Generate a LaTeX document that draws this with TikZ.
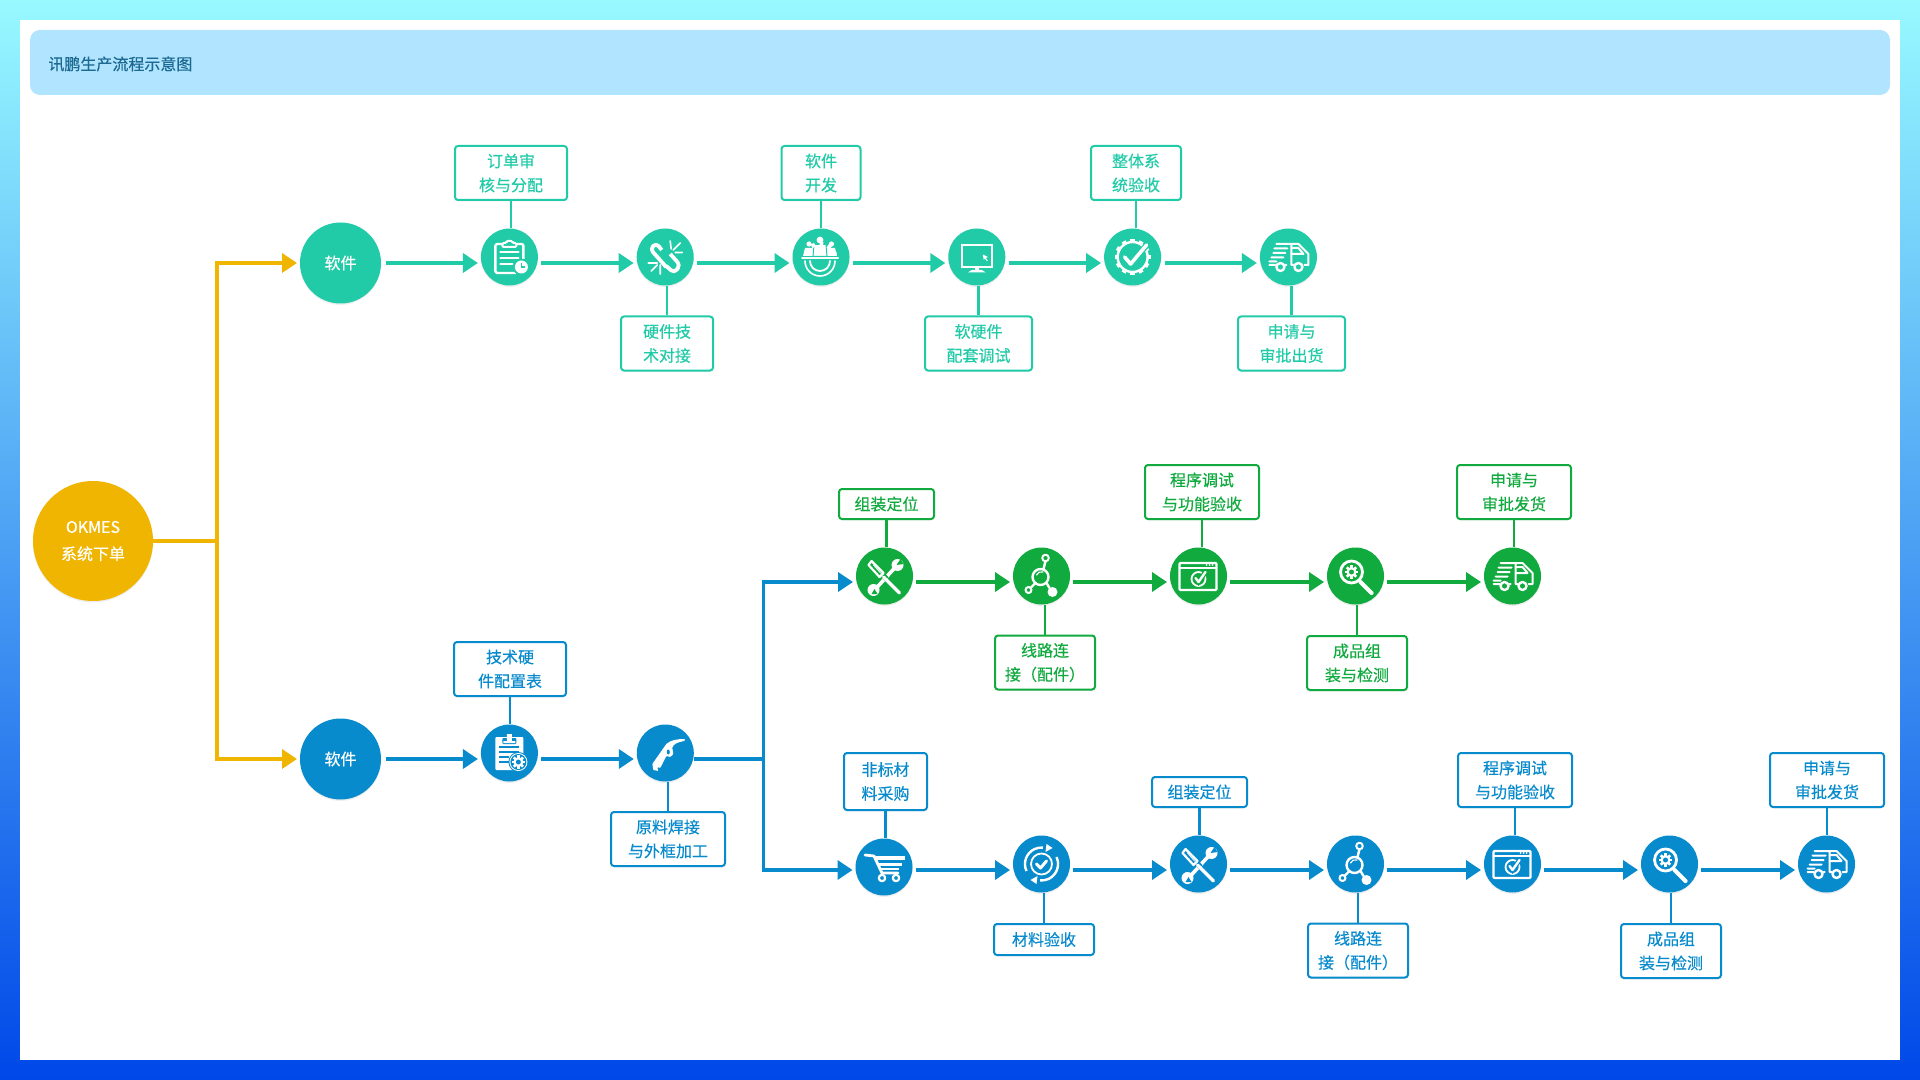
\documentclass[tikz,border=0pt]{standalone}
\usepackage{fontspec}
\setmainfont{Noto Sans CJK SC}
\newfontfamily\midfont[FakeBold=0.4]{Noto Sans CJK SC}
\usetikzlibrary{arrows.meta,shadows}
\definecolor{cteal}{HTML}{22CBA8}
\definecolor{cleaf}{HTML}{10AA3E}
\definecolor{cblue}{HTML}{088BCD}
\definecolor{cgold}{HTML}{F0B500}
\definecolor{bgtop}{HTML}{98F9FF}
\definecolor{bgbot}{HTML}{0048E8}
\definecolor{chead}{HTML}{B0E4FF}
\definecolor{ctitle}{HTML}{1C6A92}

% one cog wheel: x, y, radius, colour of the hole
\newcommand{\cog}[4]{%
  \begin{scope}[shift={(#1,#2)}]
    \foreach \a in {0,45,90,135}
      \fill[white,rotate=\a] (-.26*#3,-1.32*#3) rectangle (.26*#3,1.32*#3);
    \fill[white] (0,0) circle[radius=#3];
    \fill[#4] (0,0) circle[radius=.5*#3];
  \end{scope}}

\tikzset{
  ink/.style={draw=white,line width=1.2pt,line cap=round,line join=round},
  pics/clipclock/.style={code={
    \draw[ink,rounded corners=1pt] (-8,-13) -- (-14,-13) -- (-14,16) -- (6,16);
    \draw[ink,rounded corners=1pt] (8,-13) -- (14,-13) -- (14,2);
    \draw[ink,line width=1pt,rounded corners=.6pt] (-7,-10) -- (-7,-14) -- (-3,-14) -- (-3,-16) -- (3,-16) -- (3,-14) -- (7,-14) -- (7,-10) -- cycle;
    \draw[ink] (-9,-5) -- (9,-5) (-9,1) -- (9,1) (-9,7) -- (3,7);
    \fill[#1] (12,10) circle[radius=8.5];
    \fill[white] (12,10) circle[radius=6.5];
    \draw[#1,line width=.6pt] (12,6) -- (12,10) -- (16,10);
  }},
  pics/brokenlink/.style={code={
    \draw[ink,line width=1.9pt,rounded corners=2pt,line cap=butt] (-3.5,-7) -- (-9,-14) -- (-15,-8) -- (1,10);
    \draw[ink,line width=1.9pt,rounded corners=2pt,line cap=butt] (5,-3) -- (15,8) -- (9,16) -- (1,9);
    \draw[ink,line width=.8pt] (5,-16) -- (6,-8) (8,-7) -- (15,-14) (10,-4.5) -- (17,-4.5)
      (-17,6) -- (-8,6) (-14,14) -- (-8,8) (-5,8) -- (-5,17);
  }},
  pics/teamcog/.style={code={
    \fill[white] (-1,-17) circle[radius=3.4] (-12,-13) circle[radius=2.6] (10.5,-13) circle[radius=2.6];
    \fill[white] (-18,-1) -- (-16,-9) -- (-6,-9) -- (-6,-1) -- cycle;
    \fill[white] (16,-1) -- (14,-9) -- (4,-9) -- (4,-1) -- cycle;
    \fill[white,draw=#1,line width=.5pt] (-8,-.5) -- (-7,-12.5) -- (5,-12.5) -- (6,-.5) -- cycle;
    \draw[ink,line width=1pt] (-19,1.5) -- (17,1.5);
    \foreach \a in {25,55,...,155}
      \fill[white,shift={(-1,3)},rotate=\a] (14,-1.8) rectangle (18,1.8);
    \draw[ink,line width=.8pt] (-16,4) arc[start angle=180,end angle=0,radius=15];
    \draw[ink,line width=.9pt] (-11,4) arc[start angle=180,end angle=0,radius=10];
  }},
  pics/monitor/.style={code={
    \draw[ink,line cap=butt,line join=miter] (-15,-12) rectangle (15,10);
    \fill[white] (-2,10) rectangle (2,14);
    \fill[white] (-9,15.5) -- (-5,13) -- (5,13) -- (9,15.5) -- cycle;
    \fill[white] (6,-2.5) -- (11,0) -- (9,1) -- (11,3.5) -- (10,4) -- (8,1.5) -- (7,3) -- cycle;
  }},
  pics/cogcheck/.style={code={
    \foreach \a in {0,30,...,330}
      \fill[white,rotate=\a] (-2.2,-14) rectangle (2.2,-18);
    \draw[ink] (0,0) circle[radius=15];
    \fill[#1] (0,0) circle[radius=12.5];
    \draw[ink,line width=3pt,#1,line cap=butt] (-8,0) -- (-2,7) -- (15,-13);
    \draw[ink,line width=1.8pt] (-8,0) -- (-2,7) -- (14,-12);
  }},
  pics/truck/.style={code={
    \draw[ink,line width=1pt] (-12,-13) -- (3,-13) (3,-13) -- (10,-13) -- (20,-3) -- (20,8) -- (16,8)
      (3,-13) -- (3,8) -- (5,8) (-2,8) -- (-3,8) (-13,8) -- (-19,8)
      (-14,-8.5) -- (-1,-8.5) (-15,-4) -- (-3,-4) (-17,.5) -- (-5,.5) (-19,4.5) -- (-12,4.5);
    \draw[ink,line width=1pt] (3,-3) -- (15,-3) -- (10,-9) -- (3,-9);
    \draw[ink] (-8,10) circle[radius=4] (10,10) circle[radius=4];
  }},
  pics/tools/.style={code={
    \draw[ink,line width=1.8pt] (-9,13) -- (11,-9);
    \fill[white] (-11,14) circle[radius=6] (13,-11) circle[radius=6];
    \fill[#1] (-13,18) -- (-10,13) -- (-7,18) -- cycle;
    \fill[#1] (16,-17) -- (12,-11) -- (19,-12) -- cycle;
    \draw[#1,line width=2.6pt,line cap=butt] (-5,-5) -- (2,3);
    \draw[ink,line width=1.6pt] (-1,1) -- (15,17);
    \draw[ink,line width=2.2pt,#1,line cap=butt] (-16,-13) -- (-3,0);
    \draw[ink,line width=1.1pt] (-13,-15) -- (-1,-3) -- (-5,1) -- (-16,-11) -- cycle;
    \draw[ink,line width=.4pt] (-11,-11) -- (-4,-3);
  }},
  pics/hubnet/.style={code={
    \draw[ink] (-1,1) circle[radius=8];
    \draw[ink,line width=.6pt] (-5,-1) arc[start angle=200,end angle=290,radius=5];
    \draw[ink] (4,-15) -- (2,-7) (-6,7) -- (-11,12) (5,7) -- (8,12);
    \draw[ink,line width=1pt] (4,-18) circle[radius=3.3] (-13,14) circle[radius=3];
    \fill[white] (11,16) circle[radius=5];
  }},
  pics/browser/.style={code={
    \draw[ink,rounded corners=.5pt] (-19,-13) rectangle (18,14);
    \draw[ink,line width=.8pt] (-19,-8) -- (18,-8);
    \fill[white] (8,-11) circle[radius=1] (11,-11) circle[radius=1] (14,-11) circle[radius=1];
    \draw[ink,line width=.9pt] (0,3) circle[radius=7];
    \draw[#1,line width=2.4pt] (-3,2) -- (0,6) -- (7,-4);
    \draw[ink,line width=1.2pt] (-3,2) -- (0,6) -- (7,-4);
  }},
  pics/lens/.style={code={
    \draw[ink,line width=1.4pt] (-4,-4) circle[radius=11];
    \cog{-4}{-4}{5}{#1}
    \draw[ink,line width=2.1pt] (5,6) -- (16,17);
  }},
  pics/clipcog/.style={code={
    \fill[white,rounded corners=.5pt] (-14,-16) rectangle (14,17);
    \fill[#1,rounded corners=.5pt] (-7,-15) rectangle (7,-9);
    \fill[white] (-6,-12) rectangle (6,-10) (-2.5,-19) rectangle (2.5,-12);
    \draw[#1,line width=.8pt] (-10,-6) -- (10,-6) (-10,-1) -- (10,-1) (-10,4) -- (0,4) (-10,9) -- (0,9);
    \fill[#1] (9,9) circle[radius=10];
    \fill[white] (9,9) circle[radius=9];
    \fill[#1] (9,9) circle[radius=8];
    \cog{9}{9}{5}{#1}
  }},
  pics/torch/.style={code={
    \fill[white,rounded corners=.4pt] (-13,11) -- (1,-9) .. controls (6,-13) and (12,-14) .. (20,-14) -- (19,-12)
      .. controls (13,-11) and (8,-9) .. (7,-5) -- (8,1) -- (5,4) -- (1,3) -- (-5,15) -- (-8,14) -- (-7,18) -- (-12,17) -- cycle;
    \fill[#1] (3,-1) ellipse[x radius=1.5,y radius=2.5];
  }},
  pics/cart/.style={code={
    \draw[ink,line width=1.4pt] (-19,-12) -- (-10,-11) -- (-2,6) -- (14,6);
    \draw[ink,line width=1.7pt,line cap=butt] (-8,-9) -- (21,-9);
    \draw[ink,line width=1.5pt,line cap=butt] (-5,-3) -- (18,-3);
    \draw[ink,line width=1.3pt,line cap=butt] (-3,2) -- (15,2);
    \draw[ink,line width=1.1pt] (-2,11) circle[radius=3.2] (12,11) circle[radius=3.2];
  }},
  pics/recheck/.style={code={
    \draw[ink,line cap=butt] (-15,7) arc[start angle=155,end angle=275,radius=16.5];
    \draw[ink,line cap=butt] (15,-7) arc[start angle=-25,end angle=95,radius=16.5];
    \fill[white] (5,-20) -- (11,-16) -- (4,-12) -- cycle;
    \fill[white] (-5,20) -- (-11,16) -- (-4,12) -- cycle;
    \draw[ink,line width=.9pt] (0,0) circle[radius=10.5];
    \draw[ink,line width=1.5pt] (-5,0) -- (-1,4) -- (5,-3);
  }}
}

\begin{document}
\begin{tikzpicture}[x=.5pt,y=-.5pt,node distance=77.9pt,
    font=\midfont\fontsize{8}{12}\selectfont,
    soft shadow/.style={drop shadow={opacity=.14,shadow xshift=0pt,shadow yshift=-.7pt}},
    step node/.style={circle,inner sep=0pt,minimum size=28.5pt,fill=#1,soft shadow},
    big node/.style={circle,inner sep=0pt,minimum size=40.5pt,fill=#1,text=white,soft shadow},
    tag node/.style={rectangle,draw=#1,text=#1,fill=white,line width=1pt,rounded corners=1.5pt,
      inner sep=0pt,align=center,minimum height=27pt,soft shadow},
    flow/.style={#1,line width=1.8pt,-{Triangle[length=7.5pt,width=9.5pt]},shorten >=1.3pt,shorten <=1.5pt},
    stem/.style={#1,line width=1.2pt}]
  \useasboundingbox (0,0) rectangle (1920,1080);
  \fill[top color=bgtop,bottom color=bgbot] (0,0) rectangle (1920,1080);
  \fill[white] (20,20) rectangle (1900,1060);
  \node (head) at (960,62.5) [fill=chead,rounded corners=5pt,minimum width=930pt,minimum height=32.5pt] {};
  \node (title) at (48,64) [anchor=west,inner sep=0pt,text=ctitle] {讯鹏生产流程示意图};

  \node[big node=cgold,minimum size=60pt,align=center,font=\midfont\fontsize{8}{13.5}\selectfont] (ok) at (93,541) {OKMES\\系统下单};
  \node[big node=cteal] (soft) at (340.5,263) {软件};
  \node[big node=cblue] (hard) at (340.5,759) {软件};

  % top row
  \node[step node=cteal] (t1) at (509.4,257) {};
  \node[step node=cteal] (t2) [right of=t1] {};
  \node[step node=cteal] (t3) [right of=t2] {};
  \node[step node=cteal] (t4) [right of=t3] {};
  \node[step node=cteal] (t5) [right of=t4] {};
  \node[step node=cteal] (t6) [right of=t5] {};
  \node[tag node=cteal,minimum width=56pt] (tt1) at (511,173) {订单审\\核与分配};
  \node[tag node=cteal,minimum width=46pt] (tt2) at (667,343.5) {硬件技\\术对接};
  \node[tag node=cteal,minimum width=39.5pt] (tt3) at (821,173) {软件\\开发};
  \node[tag node=cteal,minimum width=53.5pt] (tt4) at (978.5,343.5) {软硬件\\配套调试};
  \node[tag node=cteal,minimum width=45pt] (tt5) at (1136,173) {整体系\\统验收};
  \node[tag node=cteal,minimum width=53.5pt] (tt6) at (1291.5,343.5) {申请与\\审批出货};

  % green row
  \begin{scope}[node distance=78.5pt]
    \node[step node=cleaf] (g1) at (884.5,576) {};
    \node[step node=cleaf] (g2) [right of=g1] {};
    \node[step node=cleaf] (g3) [right of=g2] {};
    \node[step node=cleaf] (g4) [right of=g3] {};
    \node[step node=cleaf] (g5) [right of=g4] {};
  \end{scope}
  \node[tag node=cleaf,minimum width=47.5pt,minimum height=15pt] (tg1) at (886.5,504) {组装定位};
  \node[tag node=cleaf,minimum width=50pt] (tg2) at (1045,662.5) {线路连\\接（配件）};
  \node[tag node=cleaf,minimum width=57pt] (tg3) at (1202,492) {程序调试\\与功能验收};
  \node[tag node=cleaf,minimum width=50pt] (tg4) at (1357,663) {成品组\\装与检测};
  \node[tag node=cleaf,minimum width=57pt] (tg5) at (1514,492) {申请与\\审批发货};

  % blue rows
  \node[step node=cblue] (c1) at (509.4,753) {};
  \node[step node=cblue] (c2) at (665.3,753) {};
  \node[tag node=cblue,minimum width=56pt] (tc1) at (510,669) {技术硬\\件配置表};
  \node[tag node=cblue,minimum width=57pt] (tc2) at (668,839) {原料焊接\\与外框加工};
  \node[step node=cblue] (d1) at (884,867) {};
  \begin{scope}[node distance=78.5pt]
    \node[step node=cblue] (d2) at (1041.5,864) {};
    \node[step node=cblue] (d3) [right of=d2] {};
    \node[step node=cblue] (d4) [right of=d3] {};
    \node[step node=cblue] (d5) [right of=d4] {};
    \node[step node=cblue] (d6) [right of=d5] {};
    \node[step node=cblue] (d7) [right of=d6] {};
  \end{scope}
  \node[tag node=cblue,minimum width=41.5pt,minimum height=28.5pt] (td1) at (885.5,781.5) {非标材\\料采购};
  \node[tag node=cblue,minimum width=50pt,minimum height=15.5pt] (td2) at (1044,939.5) {材料验收};
  \node[tag node=cblue,minimum width=47.5pt,minimum height=15pt] (td3) at (1199.5,792) {组装定位};
  \node[tag node=cblue,minimum width=50pt] (td4) at (1358,950.5) {线路连\\接（配件）};
  \node[tag node=cblue,minimum width=57pt] (td5) at (1515,780) {程序调试\\与功能验收};
  \node[tag node=cblue,minimum width=50pt] (td6) at (1671,951) {成品组\\装与检测};
  \node[tag node=cblue,minimum width=57pt] (td7) at (1827,780) {申请与\\审批发货};

  % icons
  \pic at (t1) {clipclock=cteal};
  \pic at (t2) {brokenlink=cteal};
  \pic at (t3) {teamcog=cteal};
  \pic at (t4) {monitor=cteal};
  \pic at (t5) {cogcheck=cteal};
  \pic at (t6) {truck=cteal};
  \pic at (g1) {tools=cleaf};
  \pic at (g2) {hubnet=cleaf};
  \pic at (g3) {browser=cleaf};
  \pic at (g4) {lens=cleaf};
  \pic at (g5) {truck=cleaf};
  \pic at (c1) {clipcog=cblue};
  \pic at (c2) {torch=cblue};
  \pic at (d1) {cart=cblue};
  \pic at (d2) {recheck=cblue};
  \pic at (d3) {tools=cblue};
  \pic at (d4) {hubnet=cblue};
  \pic at (d5) {browser=cblue};
  \pic at (d6) {lens=cblue};
  \pic at (d7) {truck=cblue};

  % stems
  \foreach \a/\b/\c in {tt1/t1/cteal,tt3/t3/cteal,tt5/t5/cteal,tg1/g1/cleaf,tg3/g3/cleaf,tg5/g5/cleaf,
      tc1/c1/cblue,td1/d1/cblue,td3/d3/cblue,td5/d5/cblue,td7/d7/cblue}
    \draw[stem=\c] (\a.south) -- (\a.south |- \b.north);
  \foreach \a/\b/\c in {tt2/t2/cteal,tt4/t4/cteal,tt6/t6/cteal,tg2/g2/cleaf,tg4/g4/cleaf,
      tc2/c2/cblue,td2/d2/cblue,td4/d4/cblue,td6/d6/cblue}
    \draw[stem=\c] (\a.north) -- (\a.north |- \b.south);

  % arrows
  \foreach \a/\b in {t1/t2,t2/t3,t3/t4,t4/t5,t5/t6}
    \draw[flow=cteal] ([yshift=-3pt]\a.east) -- ([yshift=-3pt]\b.west);
  \foreach \a/\b in {g1/g2,g2/g3,g3/g4,g4/g5}
    \draw[flow=cleaf] ([yshift=-3pt]\a.east) -- ([yshift=-3pt]\b.west);
  \foreach \a/\b in {d2/d3,d3/d4,d4/d5,d5/d6,d6/d7}
    \draw[flow=cblue] ([yshift=-3pt]\a.east) -- ([yshift=-3pt]\b.west);
  \draw[flow=cblue] ([yshift=-1.5pt]d1.east) -- ([yshift=-3pt]d2.west);
  \draw[flow=cblue,shorten <=2.2pt] (hard.east) -- ([yshift=-3pt]c1.west);
  \draw[flow=cblue] ([yshift=-3pt]c1.east) -- ([yshift=-3pt]c2.west);
  \draw[flow=cteal,shorten <=2.2pt] (soft.east) -- ([yshift=-3pt]t1.west);

  \coordinate (split) at (763.3,759);
  \draw[cblue,line width=1.8pt] ([yshift=-3pt]c2.east) -- (split);
  \draw[flow=cblue,shorten <=0pt] (split) |- ([yshift=-3pt]g1.west);
  \draw[flow=cblue,shorten <=0pt] (split) |- ([yshift=-1.5pt]d1.west);

  \coordinate (fork) at (217,541);
  \draw[cgold,line width=1.8pt] (ok.east) -- (fork);
  \draw[flow=cgold,shorten <=0pt] (fork) |- (soft.west);
  \draw[flow=cgold,shorten <=0pt] (fork) |- (hard.west);
\end{tikzpicture}
\end{document}
